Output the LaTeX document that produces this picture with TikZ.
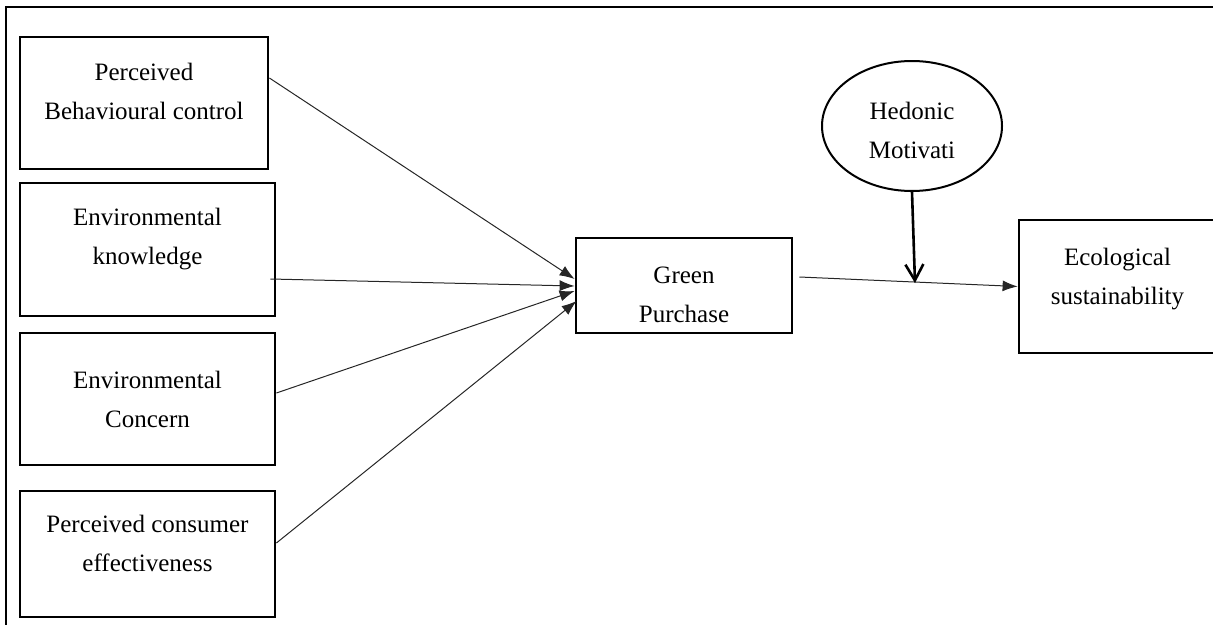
\documentclass[tikz,border=0pt]{standalone}
\usepackage{fontspec}
\setmainfont{Liberation Serif}
\usetikzlibrary{shapes,arrows.meta,positioning}

\tikzset{
  factor/.style={draw, line width=2.8pt, inner sep=0pt},
  factortext/.style={align=center, inner sep=0pt, font=\fontsize{25}{39}\selectfont},
  link/.style={line width=1pt, draw=black!85, -{Latex[length=15pt,width=11pt]}},
}

\begin{document}
\begin{tikzpicture}[x=1pt, y=-1pt]
    \useasboundingbox (0,0) rectangle (1213,624);
    \clip (0,0) rectangle (1213,624);
    \draw[line width=1.3pt] (6,7) rectangle (1240,650);
    % predictors
    \node (PBC) [factor, minimum width=248, minimum height=132] at (144,103) {};
    \node (knowledge) [factor, minimum width=255, minimum height=133] at (147.5,249.5) {};
    \node (concern) [factor, minimum width=255, minimum height=132] at (147.5,399) {};
    \node (PCE) [factor, minimum width=255, minimum height=126] at (147.5,554) {};
    \node (PBC-label) [factortext] at ([yshift=12]PBC.center) {Perceived\\Behavioural control};
    \node (knowledge-label) [factortext] at ([yshift=10]knowledge.center) {Environmental\\knowledge};
    \node (concern-label) [factortext] at (concern.center) {Environmental\\Concern};
    \node (PCE-label) [factortext] at ([yshift=11]PCE.center) {Perceived consumer\\effectiveness};
    % outcome side
    \node (purchase) [factor, minimum width=216, minimum height=95] at (684,285.5) {};
    \node (purchase-label) [factortext] at ([yshift=-9]purchase.center) {Green\\Purchase};
    \node (ecological) [factor, minimum width=197, minimum height=133] at (1117.5,286.5) {};
    \node (ecological-label) [factortext] at ([yshift=7]ecological.center) {Ecological\\sustainability};
    \node (hedonic) [draw, ellipse, line width=2pt, minimum width=180, minimum height=130, inner sep=0pt] at (912,126) {};
    \node (hedonic-label) [factortext] at ([yshift=-4]hedonic.center) {Hedonic\\Motivati};
    \coordinate (moderate) at (915,283);
    \draw[link] ([yshift=25]PBC.east) -- ([yshift=6.5]purchase.west);
    \draw[link] ([xshift=-6,yshift=-29.5]knowledge.east) -- ([yshift=-0.5]purchase.west);
    \draw[link] ([yshift=6]concern.east) -- ([yshift=-5.5]purchase.west);
    \draw[link] ([yshift=11]PCE.east) -- ([xshift=2,yshift=-15.5]purchase.west);
    \draw[link] ([xshift=6,yshift=8.5]purchase.east) -- (ecological.west);
    \draw[line width=2.6pt, -{Straight Barb[length=16pt,width=18pt,line width=2.6pt]}] (hedonic.south) -- (moderate);
\end{tikzpicture}
\end{document}
